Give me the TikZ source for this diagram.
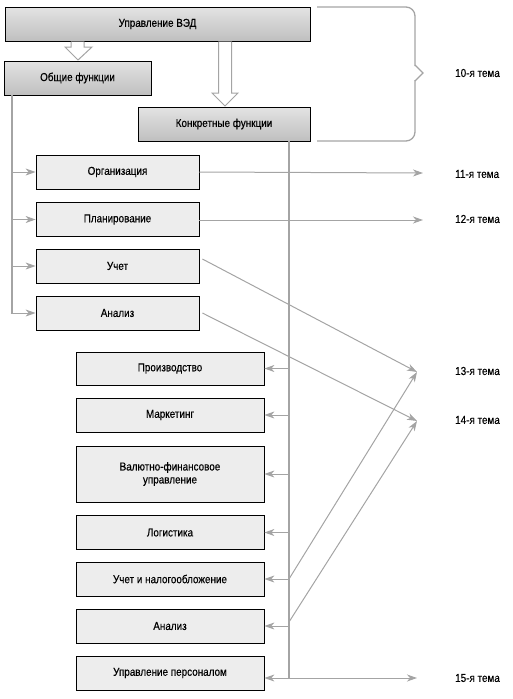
\documentclass[tikz,border=0pt]{standalone}
\usepackage{fontspec}
\setmainfont[FakeStretch=0.86,FakeBold=0.4]{Liberation Sans}
\usetikzlibrary{arrows.meta,calc}
\definecolor{lg}{HTML}{A4A4A4}
\definecolor{boxfill}{HTML}{EDEDED}
\begin{document}
\begin{tikzpicture}[x=1pt,y=-1pt,
  font=\fontsize{11.5}{13}\selectfont,
  topbox/.style={draw=black, line width=0.8pt, top color=gray!22, middle color=gray!6, bottom color=gray!50, inner sep=0pt, minimum height=34pt},
  fbox/.style={draw=black, line width=0.8pt, fill=boxfill, inner sep=0pt, align=center},
  lbox/.style={fbox, minimum width=163pt, minimum height=34pt},
  rbox/.style={fbox, minimum width=188pt, minimum height=34pt},
  bar/.style={draw=lg, line width=2.6pt},
  arr/.style={draw=lg, line width=1pt, -{Stealth[length=10pt,width=7pt,inset=3pt]}},
  hollow/.style={draw=lg, line width=1pt, fill=white, line join=miter},
  brace/.style={draw=lg, line width=1.3pt},
  lab/.style={anchor=west, inner sep=0pt}]
\useasboundingbox (0,0) rectangle (512,699);

% top level boxes
\node[topbox, minimum width=305pt] (upr) at (157.5,24) {Управление ВЭД};
\node[topbox, minimum width=147pt] (obsh) at (77.5,78) {Общие функции};
\node[topbox, minimum width=172pt] (konk) at (224,124) {Конкретные функции};

% hollow arrows
\draw[hollow] (71,41.5) -- (71,47) -- (65,47) -- (78,60) -- (92,47) -- (84,47) -- (84,41.5);
\draw[hollow] (218.5,41.5) -- (218.5,93) -- (212,93) -- (225,106) -- (238,93) -- (231.5,93) -- (231.5,41.5);

% brace
\draw[brace, rounded corners=9pt] (317,7) -- (415,7) -- (415,66);
\draw[brace, line join=miter] (415,65) -- (423,73) -- (415,81);
\draw[brace, rounded corners=9pt] (415,80) -- (415,141) -- (317,141);
\node[lab] (l10) at (455,73) {10-я тема};

% general functions
\node[lbox] (org) at (117.5,172) {Организация};
\node[lbox] (plan) at (117.5,219.5) {Планирование};
\node[lbox] (uchet) at (117.5,266) {Учет};
\node[lbox] (anal) at (117.5,313) {Анализ};

\coordinate (lb) at (12,313);
\draw[bar] (obsh.south -| lb) -- ([yshift=-1.3pt]lb);
\draw[arr] (org.west -| lb) -- (org.west);
\draw[arr] (plan.west -| lb) -- (plan.west);
\draw[arr] (uchet.west -| lb) -- (uchet.west);
\draw[arr] ([xshift=-1.3pt]lb) -- (anal.west);

% specific functions
\node[rbox, minimum height=33pt] (proiz) at (170,368.5) {Производство};
\node[rbox] (mark) at (170,415) {Маркетинг};
\node[rbox, minimum height=56pt] (valut) at (170,474) {Валютно-финансовое\\управление};
\node[rbox] (logi) at (170,532.5) {Логистика};
\node[rbox] (nalog) at (170,579) {Учет и налогообложение};
\node[rbox] (anal2) at (170,626) {Анализ};
\node[rbox] (pers) at (170,673) {Управление персоналом};

\coordinate (rb) at (289,678);
\draw[bar] (konk.south -| rb) -- (rb);
\draw[arr] (proiz.east -| rb) -- (proiz.east);
\draw[arr] (mark.east -| rb) -- (mark.east);
\draw[arr] (valut.east -| rb) -- (valut.east);
\draw[arr] (logi.east -| rb) -- (logi.east);
\draw[arr] (nalog.east -| rb) -- (nalog.east);
\draw[arr] (anal2.east -| rb) -- (anal2.east);
\draw[arr] (rb) -- (rb -| pers.east);

% topic targets
\coordinate (t11) at (423,173);
\coordinate (t12) at (423,220);
\coordinate (t13) at (417,372);
\coordinate (t14) at (417,421);
\coordinate (t15) at (417,678);
\node[lab] (l11) at (455,174) {11-я тема};
\node[lab] (l12) at (455,219) {12-я тема};
\node[lab] (l13) at (455,371) {13-я тема};
\node[lab] (l14) at (455,420) {14-я тема};
\node[lab] (l15) at (455,678) {15-я тема};

\draw[arr] (org.east) -- (t11);
\draw[arr] (plan.east |- t12) -- (t12);
\draw[arr] ($(uchet.east)+(3,-7)$) -- (t13);
\draw[arr] ($(anal.east)+(3,0)$) -- (t14);
\draw[arr] (nalog.east -| rb) -- (t13);
\draw[arr] ($(anal2.east -| rb)+(0,-4)$) -- (t14);
\draw[arr] (rb) -- (t15);
\end{tikzpicture}
\end{document}
